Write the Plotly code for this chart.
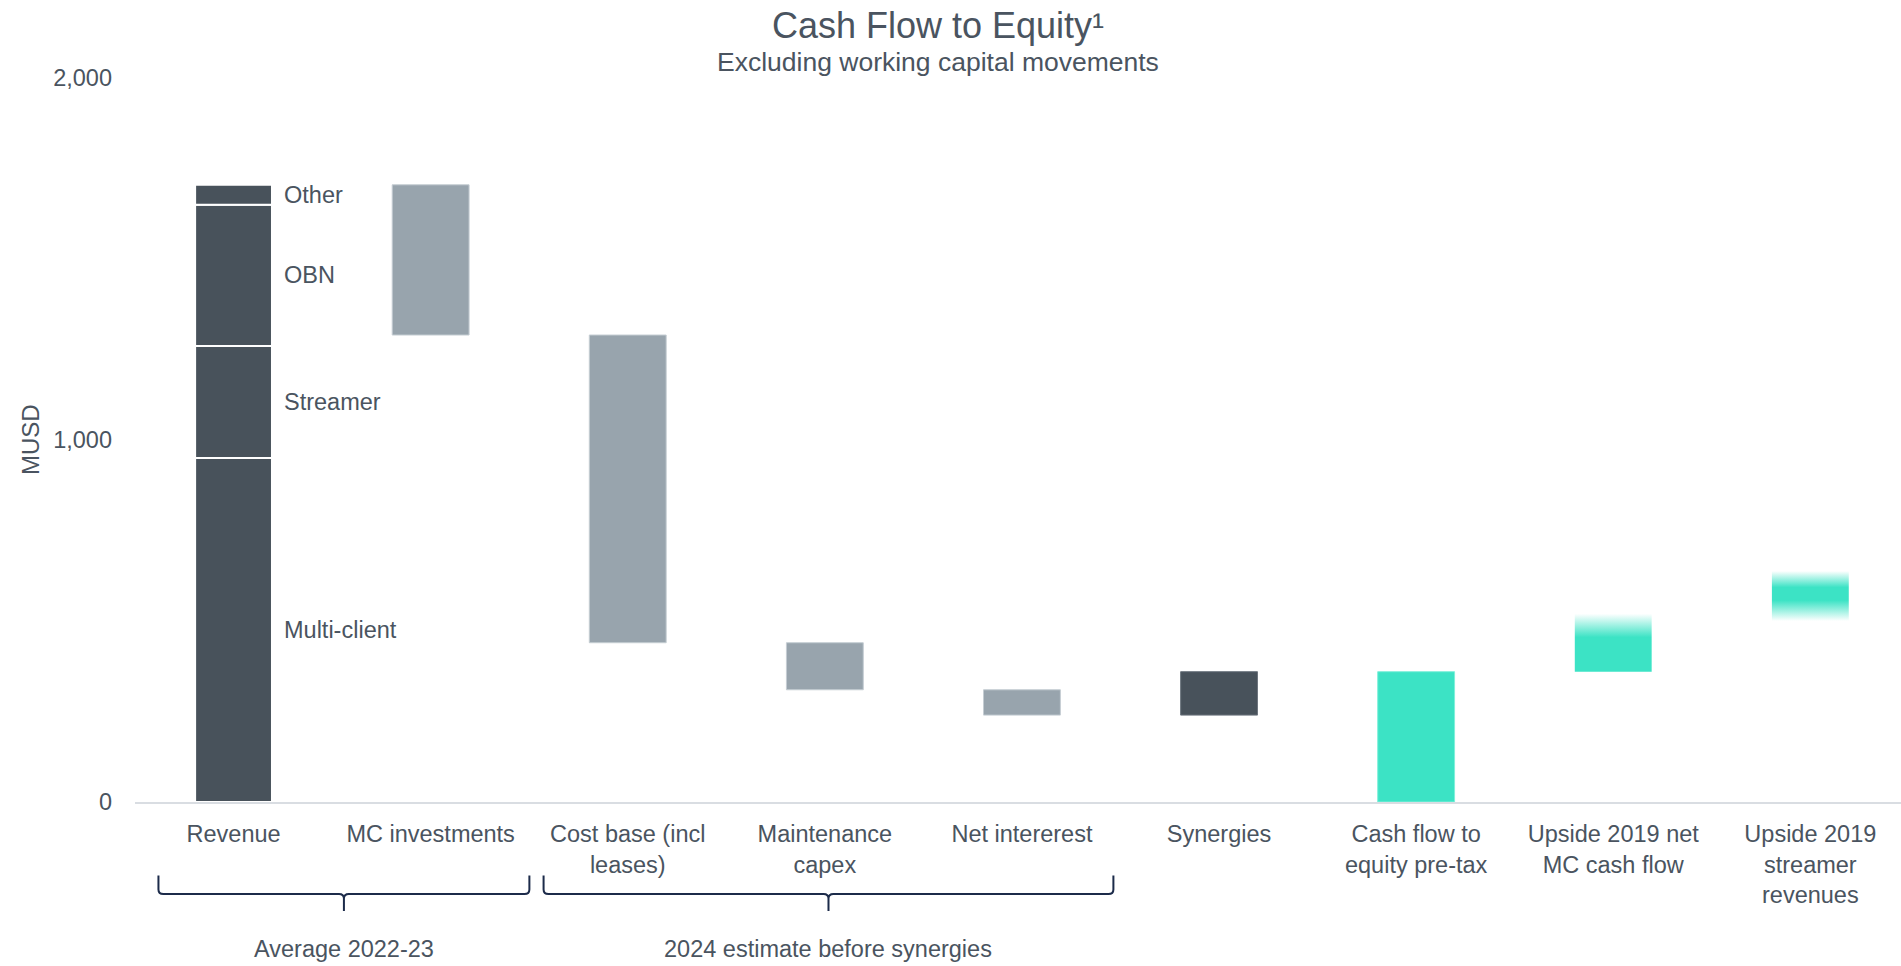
import plotly.graph_objects as go

# ---- data (MUSD) ----
categories = [
    "Revenue", "MC investments", "Cost base (incl<br>leases)", "Maintenance<br>capex",
    "Net intererest", "Synergies", "Cash flow to<br>equity pre-tax",
    "Upside 2019 net<br>MC cash flow", "Upside 2019<br>streamer<br>revenues",
]
revenue_segments = ["Multi-client", "Streamer", "OBN", "Other"]
revenue_values = [950, 310, 390, 55]

step_names = ["MC investments", "Cost base", "Maintenance capex", "Net intererest", "Synergies"]
step_values = [-415, -850, -130, -70, 120]

# upside ranges: low end, solid-from, solid-to, high end
upside_low = [360, 500]
upside_solid_lo = [360, 557]
upside_solid_hi = [455, 593]
upside_high = [520, 638]

group_labels = ["Average 2022-23", "2024 estimate before synergies"]

# ---- styling ----
DARK = "#48525B"
GREY = "#98A4AD"
TEAL = "#3CE3C5"
TEAL_CLEAR = "rgba(60,227,197,0)"
TEXT = "#4A5460"
BRACE = "#1C2B4A"
FONT = "Liberation Sans, Arial, sans-serif"
BAR_W = 0.39
FS = 23.5

fig = go.Figure()

# stacked revenue column
base = 0
for name, val in zip(revenue_segments, revenue_values):
    fig.add_trace(go.Bar(
        x=[0], y=[val], base=[base], width=BAR_W, name=name,
        marker=dict(color=DARK, line=dict(color="white", width=2)),
        showlegend=False, hoverinfo="skip",
    ))
    fig.add_annotation(x=0, y=base + val / 2, xref="x", yref="y", text=name,
                       showarrow=False, xanchor="left", xshift=48,
                       font=dict(family=FONT, size=FS, color=TEXT))
    base += val

# floating waterfall steps
level = sum(revenue_values)
for i, (name, val) in enumerate(zip(step_names, step_values), start=1):
    lo = level + min(val, 0)
    fig.add_trace(go.Bar(
        x=[i], y=[abs(val)], base=[lo], width=BAR_W, name=name,
        marker=dict(color=GREY if val < 0 else DARK,
                    line=dict(color="#C5CDD3" if val < 0 else "#6C757E", width=1)),
        showlegend=False, hoverinfo="skip",
    ))
    level += val

# resulting cash flow
cf_index = len(step_values) + 1
fig.add_trace(go.Bar(
    x=[cf_index], y=[level], base=[0], width=BAR_W, name="Cash flow to equity pre-tax",
    marker=dict(color=TEAL, line=dict(color="#7FF0DA", width=1)),
    showlegend=False, hoverinfo="skip",
))

# upside columns with soft (faded) ends
for k in range(len(upside_low)):
    xi = cf_index + 1 + k
    lo, hi = upside_low[k], upside_high[k]
    s_lo, s_hi = upside_solid_lo[k], upside_solid_hi[k]
    span = hi - lo
    scale = []
    if s_lo > lo:
        scale.append([0.0, TEAL_CLEAR])
        scale.append([(s_lo - lo) / span, TEAL])
    else:
        scale.append([0.0, TEAL])
    scale.append([(s_hi - lo) / span, TEAL])
    scale.append([1.0, TEAL_CLEAR])
    x0, x1 = xi - BAR_W / 2, xi + BAR_W / 2
    fig.add_trace(go.Scatter(
        x=[x0, x1, x1, x0, x0], y=[lo, lo, hi, hi, lo],
        mode="lines", line=dict(width=0), fill="toself",
        fillgradient=dict(type="vertical", colorscale=scale, start=lo, stop=hi),
        showlegend=False, hoverinfo="skip",
    ))

# ---- group braces under the axis ----
def paper_y(px):
    return (801.5 - px) / 723.9

def paper_x(px):
    return (px - 135) / 1766

def brace(xl, xr, xm):
    yt, yh, yb = paper_y(875), paper_y(893.5), paper_y(910.5)
    y1 = paper_y(889)
    yk = paper_y(898)
    d = 0.025
    path = (f"M {xl},{yt} L {xl},{y1} Q {xl},{yh} {xl + d},{yh} "
            f"L {xm - d},{yh} Q {xm},{yh} {xm},{yk} L {xm},{yb} "
            f"M {xm},{yk} Q {xm},{yh} {xm + d},{yh} "
            f"L {xr - d},{yh} Q {xr},{yh} {xr},{y1} L {xr},{yt}")
    fig.add_shape(type="path", path=path, xref="x", yref="paper",
                  line=dict(color=BRACE, width=2))

brace_spans = [(-0.381, 1.501), (1.573, 4.464)]
for (xl, xr), label in zip(brace_spans, group_labels):
    xm = (xl + xr) / 2
    brace(xl, xr, xm)
    fig.add_annotation(x=xm, y=paper_y(948), xref="x", yref="paper", text=label,
                       showarrow=False, xanchor="center", yanchor="middle",
                       font=dict(family=FONT, size=FS, color=TEXT))

# subtitle
fig.add_annotation(x=paper_x(938), y=paper_y(62), xref="paper", yref="paper",
                   text="Excluding working capital movements", showarrow=False,
                   xanchor="center", yanchor="middle",
                   font=dict(family=FONT, size=26.5, color=TEXT))

# vertical axis title
fig.add_annotation(x=paper_x(30), y=0.5, xref="paper", yref="paper",
                   text="MUSD", textangle=-90, showarrow=False,
                   xanchor="center", yanchor="middle",
                   font=dict(family=FONT, size=24, color=TEXT))

fig.update_layout(
    width=1901, height=966,
    margin=dict(l=135, r=0, t=78, b=164, pad=0),
    paper_bgcolor="white", plot_bgcolor="white",
    barmode="overlay",
    title=dict(text="Cash Flow to Equity¹", x=938 / 1901, xref="container",
               xanchor="center", y=1 - 25 / 966, yref="container", yanchor="middle",
               font=dict(family=FONT, size=36, color=TEXT)),
    xaxis=dict(
        range=[-0.5, 8.46], tickmode="array",
        tickvals=list(range(len(categories))), ticktext=categories,
        showgrid=False, zeroline=False, showline=True,
        linecolor="#D9DDE2", linewidth=2, ticks="",
        tickfont=dict(family=FONT, size=FS, color=TEXT),
        ticklabelstandoff=10,
    ),
    yaxis=dict(
        range=[0, 2000], tickvals=[0, 1000, 2000], tickformat=",",
        showgrid=False, zeroline=False, showline=False, ticks="",
        tickfont=dict(family=FONT, size=FS, color=TEXT),
        ticklabelstandoff=22,
    ),
)

fig.write_html("out.html")
